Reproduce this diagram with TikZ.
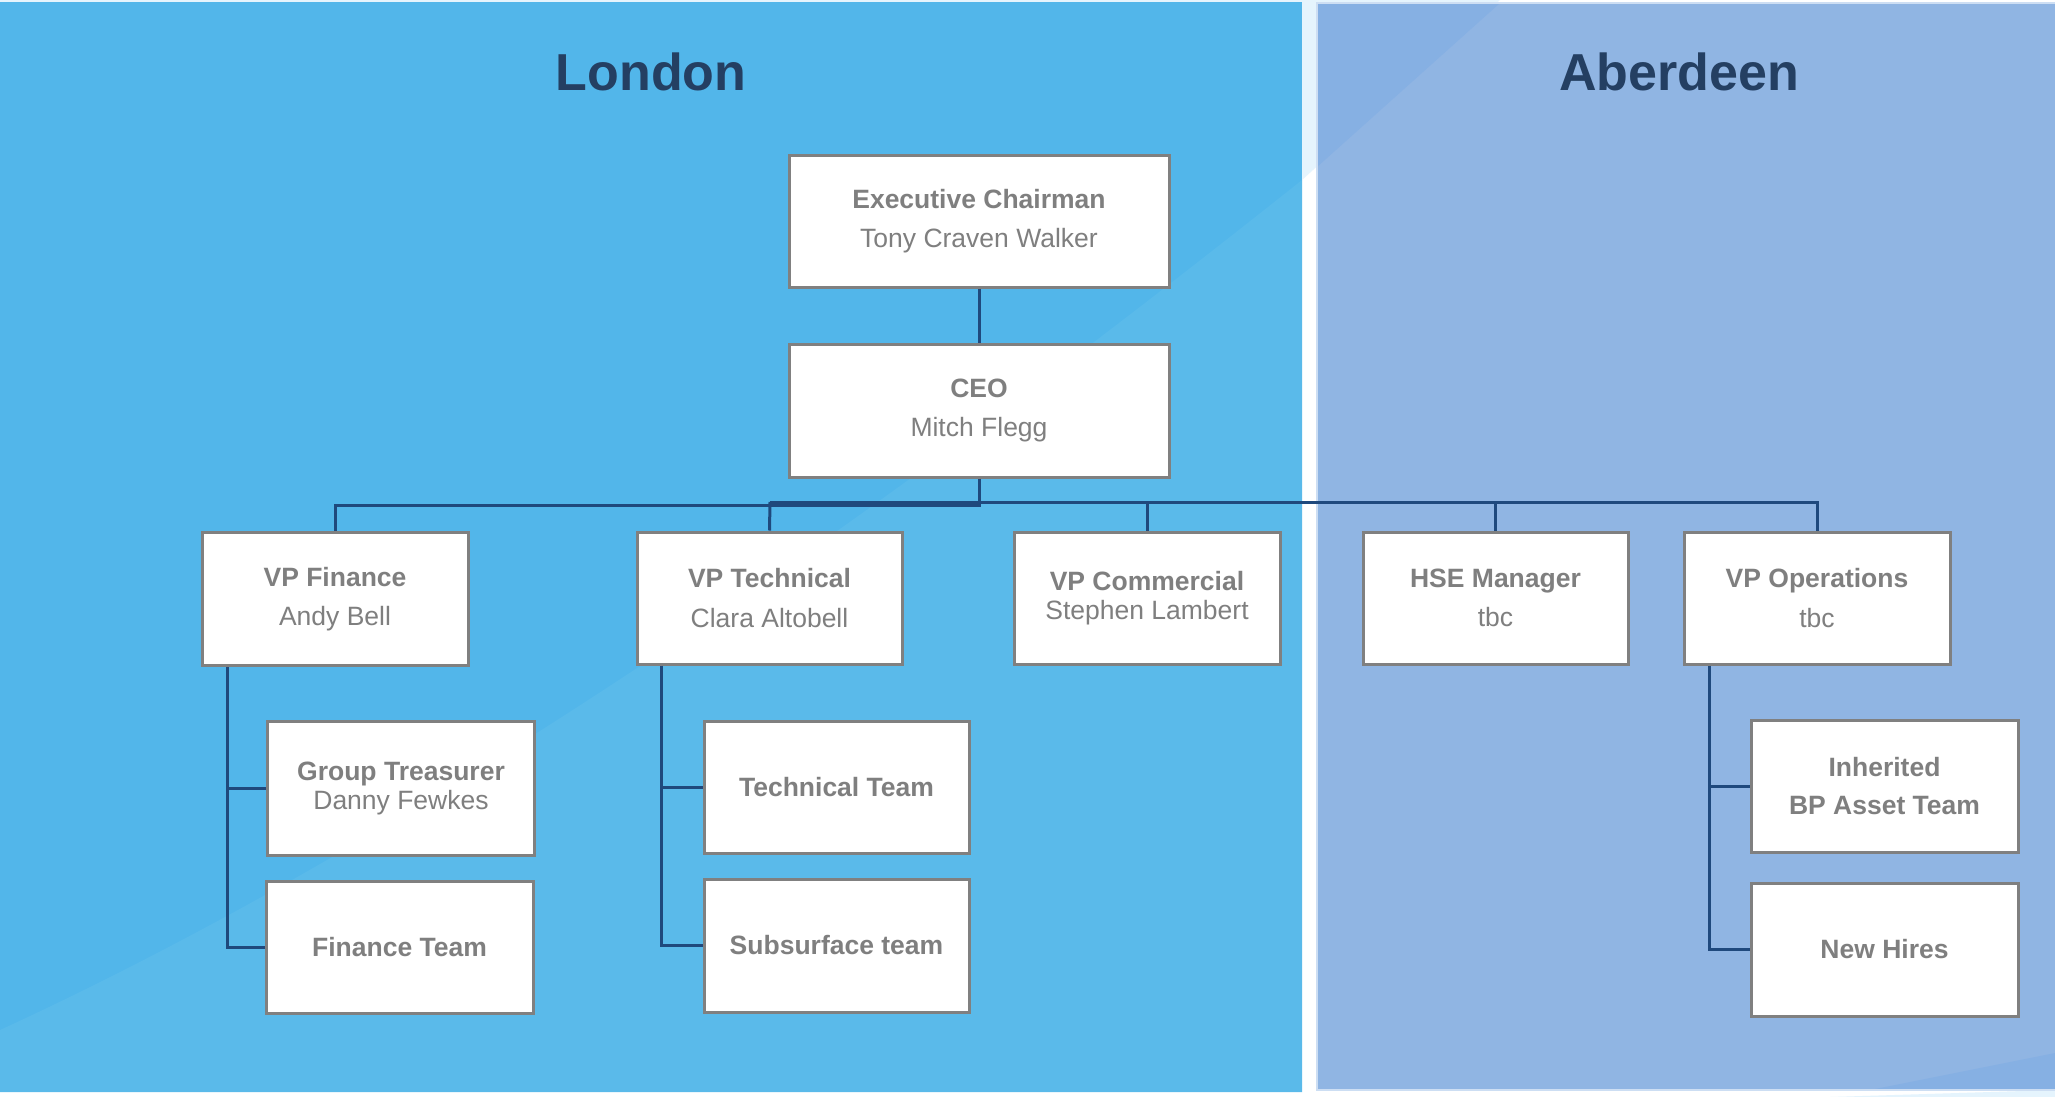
\documentclass[tikz,border=0pt]{standalone}
\usepackage{fontspec}
\setmainfont{Liberation Sans}
\definecolor{lon}{RGB}{82,182,234}
\definecolor{lonlight}{RGB}{90,186,234}
\definecolor{abd}{RGB}{144,181,227}
\definecolor{abddark}{RGB}{134,176,227}
\definecolor{bglight}{RGB}{229,244,253}
\definecolor{titlecol}{RGB}{36,63,98}
\definecolor{boxgray}{RGB}{128,128,128}
\definecolor{txtgray}{RGB}{127,127,127}
\definecolor{conncol}{RGB}{31,73,125}
\tikzset{
  orgbox/.style={draw=boxgray, line width=3pt, fill=white, inner sep=0pt,
    text=txtgray, align=center, font=\fontsize{26.5}{39.5}\selectfont},
  tightbox/.style={orgbox, font=\fontsize{26.5}{29}\selectfont},
  topstrut/.style={execute at begin node={\rule{0pt}{#1}}},
  conn/.style={draw=conncol, line width=3pt},
  title/.style={text=titlecol, font=\fontsize{52}{60}\selectfont\bfseries}
}
\begin{document}
\begin{tikzpicture}[x=1pt,y=-1pt]
\useasboundingbox (0,0) rectangle (2055,1097);
% background
\fill[white] (0,0) rectangle (2055,1097);
\fill[bglight] (0,0) -- (0,1030) .. controls (500,800) and (1000,420) .. (1302,180) -- (1500,0) -- cycle;
\fill[bglight] (1830,1097) -- (2055,1090) -- (2055,1097) -- cycle;
% London panel
\fill[lon] (0,2) rectangle (1302,1092);
\fill[lonlight] (0,1030) .. controls (500,800) and (1000,420) .. (1302,180) -- (1302,1092) -- (0,1092) -- cycle;
% Aberdeen panel
\fill[abd] (1317,3) rectangle (2055,1090);
\fill[abddark] (1317,3) -- (1500,3) -- (1317,167) -- cycle;
\fill[abddark] (1870,1090) -- (2055,1053) -- (2055,1090) -- cycle;
\draw[white!55!abd, line width=2pt] (2056,3) -- (1317,3) -- (1317,1090) -- (2056,1090);
% titles
\node[title] (tlon) at (651,72) {London};
\node[title] (tabd) at (1679,72) {Aberdeen};
% boxes
\node[orgbox, topstrut=29pt, minimum width=380pt, minimum height=132pt] (chair) at (979,221) {\textbf{Executive Chairman}\\Tony Craven Walker};
\node[orgbox, topstrut=29pt, minimum width=380pt, minimum height=133pt] (ceo) at (979,410.5) {\textbf{CEO}\\Mitch Flegg};
\node[orgbox, topstrut=28pt, minimum width=266pt, minimum height=133pt] (vpfin) at (335,599) {\textbf{VP Finance}\\Andy Bell};
\node[orgbox, topstrut=27pt, minimum width=265pt, minimum height=132pt] (vptech) at (769.5,598) {\textbf{VP Technical}\\Clara Altobell};
\node[tightbox, topstrut=27pt, minimum width=266pt, minimum height=132pt] (vpcom) at (1147,598) {\textbf{VP Commercial}\\Stephen Lambert};
\node[orgbox, topstrut=27pt, minimum width=265pt, minimum height=132pt] (hse) at (1495.5,598) {\textbf{HSE Manager}\\tbc};
\node[orgbox, topstrut=27pt, minimum width=266pt, minimum height=132pt] (vpops) at (1817,598) {\textbf{VP Operations}\\tbc};
\node[tightbox, topstrut=29pt, minimum width=267pt, minimum height=134pt] (gt) at (401,788) {\textbf{Group Treasurer}\\Danny Fewkes};
\node[orgbox, minimum width=267pt, minimum height=132pt] (fin) at (399.5,947) {\textbf{Finance Team}};
\node[orgbox, minimum width=265pt, minimum height=132pt] (tt) at (836.5,787) {\textbf{Technical Team}};
\node[orgbox, minimum width=265pt, minimum height=133pt] (sub) at (836.5,945.5) {\textbf{Subsurface team}};
\node[orgbox, minimum width=267pt, minimum height=132pt, font=\fontsize{26.5}{38}\selectfont\bfseries] (inh) at (1884.5,786) {Inherited\\BP Asset Team};
\node[orgbox, minimum width=267pt, minimum height=133pt] (nh) at (1884.5,949.5) {\textbf{New Hires}};
% connectors
\coordinate (busL) at (979,505);
\coordinate (busR) at (770,502);
\draw[conn] (chair.south) -- (ceo.north);
\draw[conn] (ceo.south) -- (busL) -| (vpfin.north);
\draw[conn] (busL) -- (busL -| vptech.north);
\draw[conn] (busR) -| (vpops.north);
\draw[conn] (busR) -- (vptech.north);
\draw[conn] (vpcom.north) -- (vpcom.north |- busR);
\draw[conn] (hse.north) -- (hse.north |- busR);
% sub-team spines
\coordinate (fspine) at ([xshift=27pt]vpfin.south west);
\draw[conn] (fspine) |- (fin.west);
\draw[conn] (gt.west) -- (gt.west -| fspine);
\coordinate (tspine) at ([xshift=26pt]vptech.south west);
\draw[conn] (tspine) |- (sub.west);
\draw[conn] (tt.west) -- (tt.west -| tspine);
\coordinate (ospine) at ([xshift=27pt]vpops.south west);
\draw[conn] (ospine) |- (nh.west);
\draw[conn] (inh.west) -- (inh.west -| ospine);
\end{tikzpicture}
\end{document}
